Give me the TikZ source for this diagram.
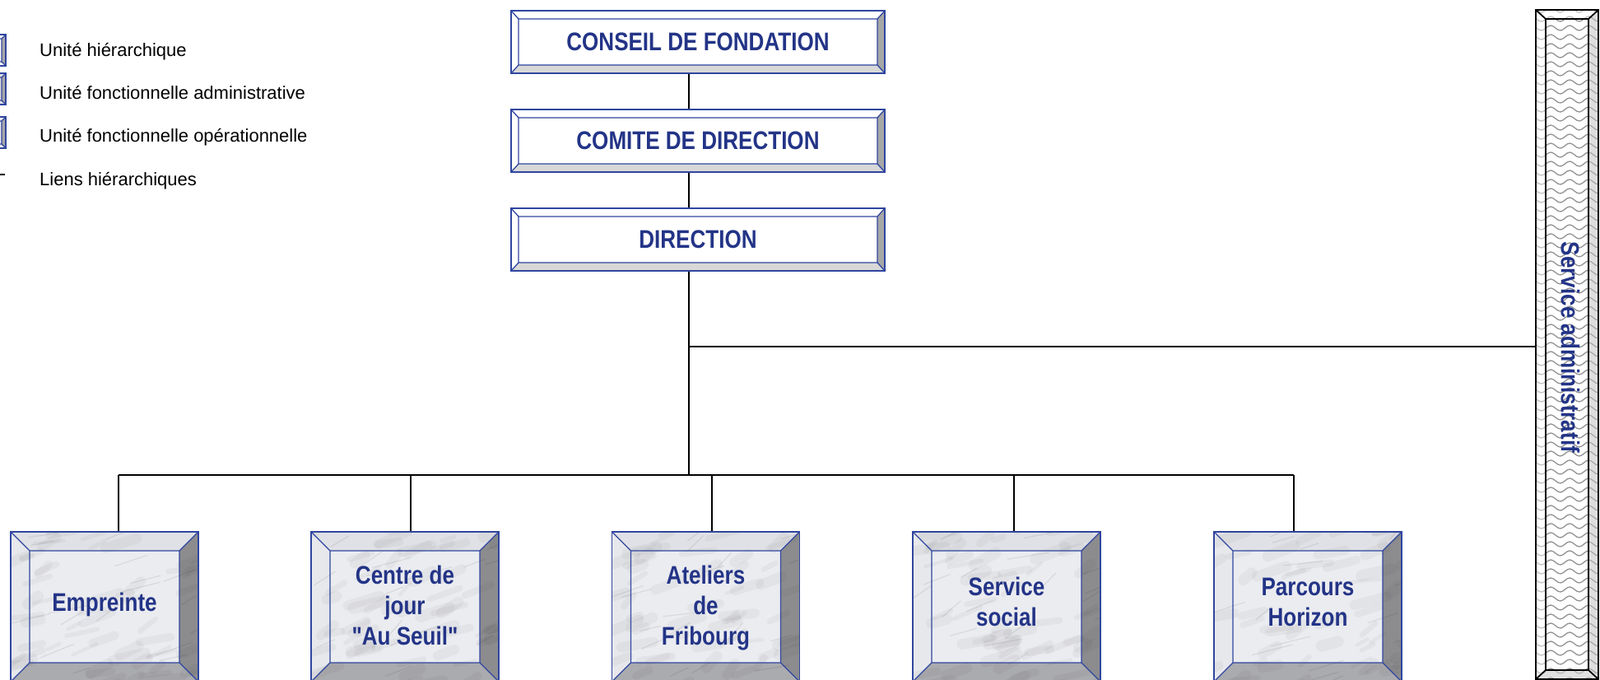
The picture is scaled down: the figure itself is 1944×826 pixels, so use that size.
\documentclass[tikz,border=0pt]{standalone}
\usepackage{fontspec}
\setmainfont{Liberation Sans}
\newfontfamily\narrowfont[FakeStretch=0.84]{Liberation Sans}
\usetikzlibrary{decorations.pathmorphing}
\definecolor{navytext}{RGB}{35,52,135}
\definecolor{edgeblue}{RGB}{48,70,160}
\definecolor{bevright}{RGB}{166,166,166}
\definecolor{bevbottom}{RGB}{216,216,216}
\definecolor{marbleface}{RGB}{235,236,240}
\definecolor{marbletop}{RGB}{224,225,230}
\definecolor{marbleleft}{RGB}{231,232,236}
\definecolor{marbleright}{RGB}{140,140,143}
\definecolor{marblebottom}{RGB}{170,171,175}
\newcommand\marbletex{%
  \foreach \k in {1,...,60}{%
    \pgfmathsetmacro\ax{rnd*250-10}%
    \pgfmathsetmacro\ay{rnd*200-10}%
    \pgfmathsetmacro\lw{4+rnd*10}%
    \pgfmathsetmacro\dx{10+rnd*30}%
    \pgfmathsetmacro\dy{3+rnd*12}%
    \draw[black, opacity=0.035, line width=\lw pt, line cap=round] ([shift={(\ax,\ay)}]P1) -- ++(\dx,-\dy);
  }%
  \foreach \k in {1,...,18}{%
    \pgfmathsetmacro\ax{rnd*250-10}%
    \pgfmathsetmacro\ay{rnd*200-10}%
    \pgfmathsetmacro\dx{15+rnd*35}%
    \pgfmathsetmacro\dy{5+rnd*15}%
    \draw[black, opacity=0.08, line width=1.2pt, line cap=round] ([shift={(\ax,\ay)}]P1) -- ++(\dx,-\dy);
  }}
\newcommand\getcorners[2]{%
  \path (path picture bounding box.north west) coordinate (P1)
        (path picture bounding box.north east) coordinate (P2)
        (path picture bounding box.south east) coordinate (P3)
        (path picture bounding box.south west) coordinate (P4);
  \path ([shift={(#1,#2)}]P1) coordinate (Q1) ([shift={(-#1,#2)}]P2) coordinate (Q2)
        ([shift={(-#1,-#2)}]P3) coordinate (Q3) ([shift={(#1,-#2)}]P4) coordinate (Q4);}
\begin{document}
\begin{tikzpicture}[x=1pt,y=-1pt,
  link/.style={line width=2pt, draw=black},
  boxfont/.style={font=\narrowfont\bfseries\fontsize{31}{37}\selectfont, text=navytext, align=center},
  legtext/.style={font=\fontsize{22}{26}\selectfont, text=black, anchor=base west, inner sep=0pt},
  topbx/.style={boxfont, rectangle, minimum width=454pt, minimum height=76pt, inner sep=0pt,
    draw=edgeblue, line width=1.5pt,
    path picture={
      \getcorners{9}{10}
      \fill[white] (P1) rectangle (P3);
      \fill[bevright] (P2)--(P3)--(Q3)--(Q2)--cycle;
      \fill[bevbottom] (P4)--(Q4)--(Q3)--(P3)--cycle;
      \draw[edgeblue, line width=1.3pt] (Q1) rectangle (Q3) (P1)--(Q1) (P2)--(Q2) (P3)--(Q3) (P4)--(Q4);
    }},
  botbx/.style={boxfont, rectangle, minimum width=228pt, minimum height=182pt, inner sep=0pt,
    text depth=12pt, draw=edgeblue, line width=1.5pt,
    path picture={
      \getcorners{23}{23}
      \fill[marbleface] (P1) rectangle (P3);
      \fill[marbletop] (P1)--(P2)--(Q2)--(Q1)--cycle;
      \fill[marbleleft] (P1)--(Q1)--(Q4)--(P4)--cycle;
      \fill[marbleright] (P2)--(P3)--(Q3)--(Q2)--cycle;
      \fill[marblebottom] (P4)--(Q4)--(Q3)--(P3)--cycle;
      \marbletex
      \draw[edgeblue, line width=1.3pt] (Q1) rectangle (Q3) (P1)--(Q1) (P2)--(Q2) (P3)--(Q3) (P4)--(Q4);
    }},
  sabx/.style={rectangle, minimum width=76pt, minimum height=813pt, inner sep=0pt,
    draw=black, line width=2pt,
    path picture={
      \getcorners{12}{11}
      \fill[white] (P1) rectangle (P3);
      \foreach \r in {0,...,75}{
        \draw[gray!85, line width=1.3pt, decorate, decoration={snake, segment length=23pt, amplitude=3pt}]
          ([shift={(-12,\r*11)}]P1) -- ++(110,0);}
      \fill[white, opacity=.45] (P1)--(P2)--(Q2)--(Q1)--cycle;
      \fill[white, opacity=.45] (P1)--(Q1)--(Q4)--(P4)--cycle;
      \fill[gray!40, opacity=.6] (P4)--(Q4)--(Q3)--(P3)--cycle;
      \fill[gray!50, opacity=.5] (P2)--(P3)--(Q3)--(Q2)--cycle;
      \draw[black, line width=1.8pt] (Q1) rectangle (Q3) (P1)--(Q1) (P2)--(Q2) (P3)--(Q3) (P4)--(Q4);
    }},
  legicon/.style={rectangle, minimum width=38pt, minimum height=38pt, inner sep=0pt,
    draw=edgeblue, line width=1.5pt,
    path picture={
      \getcorners{5}{5}
      \fill[#1] (P1) rectangle (P3);
      \fill[bevright] (P2)--(P3)--(Q3)--(Q2)--cycle;
      \draw[edgeblue, line width=1.2pt] (Q1) rectangle (Q3) (P2)--(Q2) (P3)--(Q3);
    }}
]
\useasboundingbox (0,0) rectangle (1944,826);
\clip (0,0) rectangle (1944,826);

% legend
\node[legicon=white] (lg1) at (-12,61) {};
\node[legicon=gray!25] (lg2) at (-12,108) {};
\node[legicon=marbleface] (lg3) at (-12,161) {};
\coordinate (lg4) at (0,212);
\draw[line width=1.5pt] (lg4) -- ++(6,0);
\node[legtext] (lt1) at (48,69) {Unité hiérarchique};
\node[legtext] (lt2) at (48,121) {Unité fonctionnelle administrative};
\node[legtext] (lt3) at (48,173) {Unité fonctionnelle opérationnelle};
\node[legtext] (lt4) at (48,226) {Liens hiérarchiques};

% top hierarchy
\node[topbx] (cf) at (848,51) {CONSEIL DE FONDATION};
\node[topbx] (cd) at (848,171) {COMITE DE DIRECTION};
\node[topbx] (dir) at (848,291) {DIRECTION};

% service administratif
\node[sabx] (sa) at (1904,418.5) {};
\node[boxfont, rotate=-90] (satx) at (1908,422) {Service administratif};

% units
\node[botbx] (emp) at (127,737) {Empreinte};
\node[botbx, text depth=3pt] (cdj) at (492,737) {Centre de\\jour\\"Au Seuil"};
\node[botbx, text depth=3pt] (atf) at (857.5,737) {Ateliers\\de\\Fribourg};
\node[botbx] (sso) at (1223,737) {Service\\social};
\node[botbx] (pho) at (1589,737) {Parcours\\Horizon};

% connectors
\draw[line width=1.6pt] ([xshift=-11pt]cf.south) -- ([xshift=-11pt]cd.north);
\draw[line width=1.8pt] ([xshift=-11pt]cd.south) -- ([xshift=-11pt]dir.north);
\coordinate (hub) at (837,421);
\coordinate (bus) at (837,577);
\draw[link] ([xshift=-11pt]dir.south) -- (bus);
\draw[link] (hub) -- (hub -| sa.west);
\coordinate (busl) at (144,577);
\coordinate (busr) at (1572,577);
\draw[link] (busl) -- (busr);
\foreach \n/\x in {emp/144, cdj/499, atf/865, sso/1232, pho/1572}{
  \coordinate (t\n) at (\x,577);
  \draw[link] (t\n) -- (t\n |- \n.north);
}
\end{tikzpicture}
\end{document}
